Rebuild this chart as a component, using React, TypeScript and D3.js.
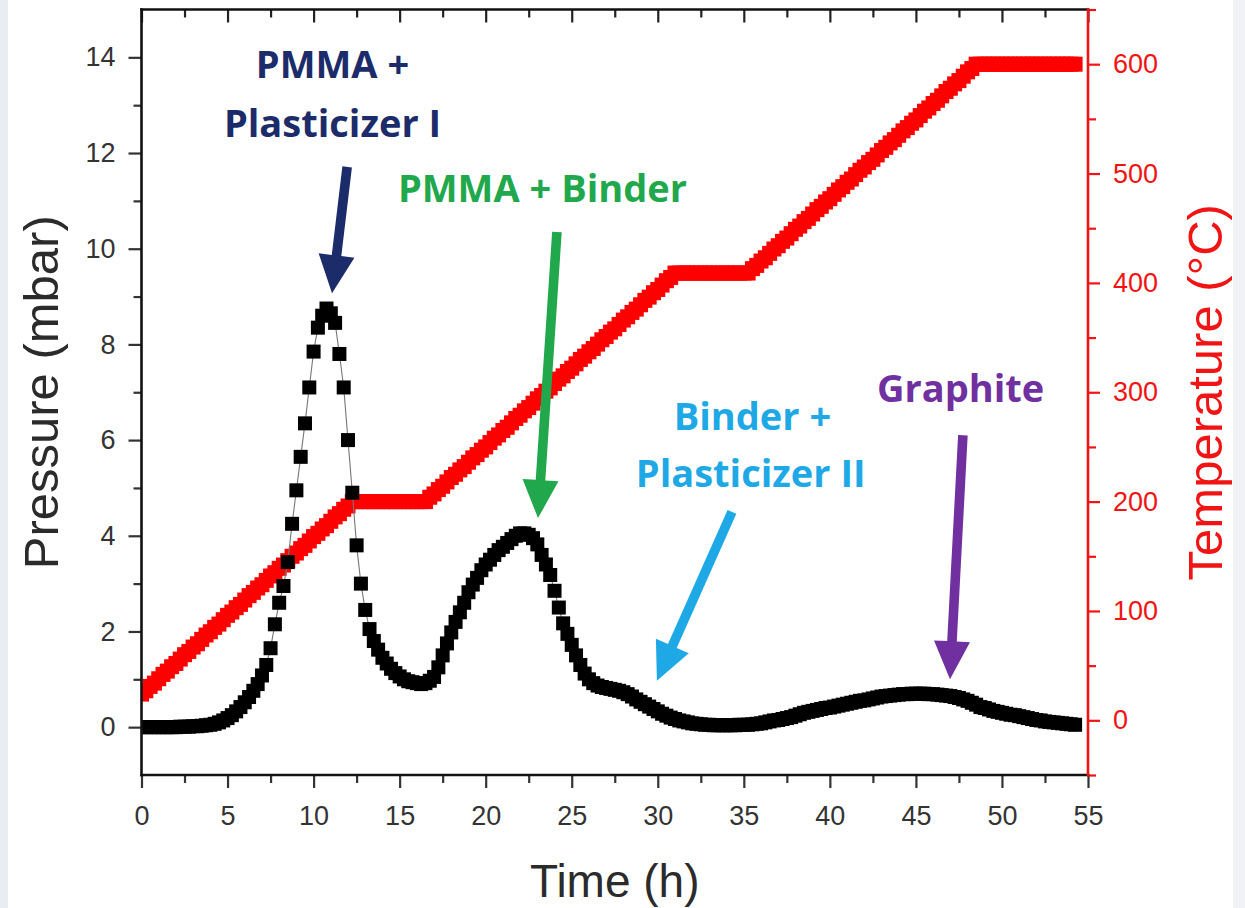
import React, { useEffect, useRef } from 'react';
import * as d3 from 'd3';

// samples are logged every quarter hour
const STEP_H = 0.25;

// pressure (mbar), one row per hour
const pressure = [
  0.00, 0.00, 0.00, 0.00,
  0.00, 0.00, 0.00, 0.00,
  0.00, 0.01, 0.01, 0.01,
  0.02, 0.02, 0.03, 0.04,
  0.05, 0.07, 0.10, 0.14,
  0.19, 0.25, 0.33, 0.42,
  0.52, 0.63, 0.76, 0.90,
  1.08, 1.30, 1.65, 2.15,
  2.60, 2.95, 3.45, 4.25,
  4.95, 5.65, 6.35, 7.10,
  7.85, 8.35, 8.60, 8.75,
  8.65, 8.45, 7.80, 7.10,
  6.00, 4.90, 3.80, 3.00,
  2.45, 2.05, 1.80, 1.62,
  1.45, 1.33, 1.22, 1.13,
  1.06, 1.00, 0.96, 0.94,
  0.92, 0.90, 0.92, 0.97,
  1.05, 1.25, 1.50, 1.75,
  1.98, 2.20, 2.40, 2.60,
  2.82, 2.98, 3.12, 3.28,
  3.40, 3.50, 3.60, 3.70,
  3.77, 3.85, 3.93, 4.00,
  4.05, 4.05, 4.02, 3.95,
  3.82, 3.60, 3.40, 3.18,
  2.85, 2.50, 2.17, 1.95,
  1.72, 1.50, 1.30, 1.12,
  1.00, 0.92, 0.87, 0.84,
  0.82, 0.80, 0.78, 0.76,
  0.73, 0.69, 0.64, 0.58,
  0.53, 0.48, 0.43, 0.38,
  0.33, 0.28, 0.24, 0.20,
  0.17, 0.14, 0.12, 0.10,
  0.08, 0.07, 0.06, 0.05,
  0.05, 0.04, 0.04, 0.04,
  0.04, 0.04, 0.04, 0.05,
  0.05, 0.05, 0.06, 0.07,
  0.08, 0.10, 0.12, 0.14,
  0.15, 0.17, 0.19, 0.21,
  0.24, 0.27, 0.30, 0.32,
  0.34, 0.36, 0.38, 0.40,
  0.41, 0.43, 0.45, 0.47,
  0.49, 0.51, 0.53, 0.55,
  0.56, 0.58, 0.60, 0.62,
  0.64, 0.65, 0.66, 0.67,
  0.68, 0.69, 0.69, 0.70,
  0.70, 0.70, 0.70, 0.69,
  0.69, 0.68, 0.67, 0.66,
  0.65, 0.63, 0.61, 0.58,
  0.55, 0.51, 0.47, 0.42,
  0.40, 0.37, 0.34, 0.32,
  0.30, 0.28, 0.26, 0.25,
  0.23, 0.21, 0.19, 0.17,
  0.15, 0.14, 0.12, 0.11,
  0.10, 0.09, 0.08, 0.07,
  0.06, 0.05,
];

// oven temperature (°C), one row per hour
const temperature = [
  24, 27, 31, 34,
  38, 42, 45, 49,
  52, 56, 60, 63,
  67, 70, 74, 78,
  81, 85, 88, 92,
  96, 99, 103, 106,
  110, 114, 117, 121,
  124, 128, 132, 135,
  139, 142, 146, 150,
  153, 157, 160, 164,
  168, 171, 175, 178,
  182, 186, 189, 193,
  196, 200, 200, 200,
  200, 200, 200, 200,
  200, 200, 200, 200,
  200, 200, 200, 200,
  200, 200, 200, 204,
  207, 211, 214, 218,
  222, 225, 229, 232,
  236, 240, 243, 247,
  250, 254, 258, 261,
  265, 268, 272, 276,
  279, 283, 286, 290,
  294, 297, 301, 304,
  308, 312, 315, 319,
  322, 326, 330, 333,
  337, 340, 344, 348,
  351, 355, 358, 362,
  366, 369, 373, 376,
  380, 384, 387, 391,
  394, 398, 402, 405,
  409, 409, 409, 409,
  409, 409, 409, 409,
  409, 409, 409, 409,
  409, 409, 409, 409,
  409, 409, 413, 416,
  420, 423, 427, 431,
  434, 438, 441, 445,
  449, 452, 456, 459,
  463, 467, 470, 474,
  477, 481, 485, 488,
  492, 495, 499, 503,
  506, 510, 513, 517,
  521, 524, 528, 531,
  535, 539, 542, 546,
  549, 553, 557, 560,
  564, 567, 571, 575,
  578, 582, 585, 589,
  593, 596, 600, 600,
  600, 600, 600, 600,
  600, 600, 600, 600,
  600, 600, 600, 600,
  600, 600, 600, 600,
  600, 600, 600, 600,
  600, 600,
];

const timeTicks = [0, 5, 10, 15, 20, 25, 30, 35, 40, 45, 50, 55];
const timeMinor = [2.5, 7.5, 12.5, 17.5, 22.5, 27.5, 32.5, 37.5, 42.5, 47.5, 52.5];
const pressureTicks = [0, 2, 4, 6, 8, 10, 12, 14];
const pressureMinor = [1, 3, 5, 7, 9, 11, 13];
const tempTicks = [0, 100, 200, 300, 400, 500, 600];
const tempMinor = [-50, 50, 150, 250, 350, 450, 550, 650];

// annotations, placed in data units (time h, pressure mbar)
const noteText = ['PMMA +', 'Plasticizer I', 'PMMA + Binder', 'Binder +', 'Plasticizer II', 'Graphite'];
const noteT = [11.1, 11.1, 23.3, 35.5, 35.4, 47.6];
const noteP = [13.57, 12.34, 10.98, 6.21, 5.02, 6.8];
const noteColor = ['#1c2b69', '#1c2b69', '#22a84c', '#1ea9e6', '#1ea9e6', '#7030a0'];

const arrowFromT = [11.95, 24.14, 34.31, 47.73];
const arrowFromP = [11.71, 10.35, 4.5, 6.1];
const arrowToT = [11.07, 23.04, 29.95, 46.98];
const arrowToP = [9.07, 4.37, 0.97, 1.0];
const arrowColor = ['#1c2b69', '#22a84c', '#1ea9e6', '#7030a0'];

const W = 1245;
const H = 908;
const margin = { left: 141.5, right: 157, top: 9.5, bottom: 133 };

const App = () => {
  const ref = useRef(null);

  useEffect(() => {
    const svg = d3.select(ref.current);
    svg.selectAll('*').remove();

    const x = d3.scaleLinear().domain([0, 55]).range([margin.left, W - margin.right]);
    const y = d3.scaleLinear().domain([-1, 15]).range([H - margin.bottom, margin.top]);
    const yT = d3.scaleLinear().domain([-50, 650]).range([H - margin.bottom, margin.top]);

    const x0 = x(0), x1 = x(55), yb = y(-1), yt = y(15);

    // page edges of the original screenshot
    svg.append('rect').attr('x', 0).attr('y', 0).attr('width', 8).attr('height', H).attr('fill', '#e8ecf3');
    svg.append('rect').attr('x', 1233).attr('y', 0).attr('width', 12).attr('height', H).attr('fill', '#f0f2f5');

    svg.append('clipPath').attr('id', 'plot-clip')
      .append('rect').attr('x', x0).attr('y', yt).attr('width', x1 - x0).attr('height', yb - yt);

    const plot = svg.append('g').attr('clip-path', 'url(#plot-clip)');

    // temperature
    const tSize = 15;
    plot.append('g').selectAll('rect').data(temperature).join('rect')
      .attr('x', (d, i) => x(i * STEP_H) - tSize / 2)
      .attr('y', d => yT(d) - tSize / 2)
      .attr('width', tSize).attr('height', tSize)
      .attr('fill', '#ff0000');

    // pressure: thin connecting line, then squares
    const line = d3.line()
      .x((d, i) => x(i * STEP_H))
      .y(d => y(d));
    plot.append('path').datum(pressure)
      .attr('fill', 'none').attr('stroke', '#777').attr('stroke-width', 1.1)
      .attr('d', line);

    const pSize = 14;
    plot.append('g').selectAll('rect').data(pressure).join('rect')
      .attr('x', (d, i) => x(i * STEP_H) - pSize / 2)
      .attr('y', d => y(d) - pSize / 2)
      .attr('width', pSize).attr('height', pSize)
      .attr('fill', '#000');

    const tickFont = 'Liberation Sans, Arial, sans-serif';
    const styleAxis = (g, color) => {
      g.select('.domain').remove();
      g.selectAll('line').attr('stroke', color).attr('stroke-width', 2.2);
      g.selectAll('text').attr('fill', color).style('font-size', '27px').style('font-family', tickFont);
    };

    // bottom
    svg.append('g').attr('transform', `translate(0,${yb})`)
      .call(d3.axisBottom(x).tickValues(timeTicks).tickSize(13).tickPadding(18).tickFormat(d3.format('d')))
      .call(g => styleAxis(g, '#333'));
    svg.append('g').attr('transform', `translate(0,${yb})`)
      .call(d3.axisBottom(x).tickValues(timeMinor).tickSize(8).tickFormat(() => ''))
      .call(g => styleAxis(g, '#333'));
    // top, ticks inward
    svg.append('g').attr('transform', `translate(0,${yt})`)
      .call(d3.axisTop(x).tickValues(timeTicks).tickSize(-13).tickFormat(() => ''))
      .call(g => styleAxis(g, '#222'));
    svg.append('g').attr('transform', `translate(0,${yt})`)
      .call(d3.axisTop(x).tickValues(timeMinor).tickSize(-8).tickFormat(() => ''))
      .call(g => styleAxis(g, '#222'));
    // left
    svg.append('g').attr('transform', `translate(${x0},0)`)
      .call(d3.axisLeft(y).tickValues(pressureTicks).tickSize(13).tickPadding(13).tickFormat(d3.format('d')))
      .call(g => styleAxis(g, '#333'));
    svg.append('g').attr('transform', `translate(${x0},0)`)
      .call(d3.axisLeft(y).tickValues(pressureMinor).tickSize(8).tickFormat(() => ''))
      .call(g => styleAxis(g, '#333'));
    // right, temperature
    svg.append('g').attr('transform', `translate(${x1},0)`)
      .call(d3.axisRight(yT).tickValues(tempTicks).tickSize(12).tickPadding(13).tickFormat(d3.format('d')))
      .call(g => styleAxis(g, '#f01414'));
    svg.append('g').attr('transform', `translate(${x1},0)`)
      .call(d3.axisRight(yT).tickValues(tempMinor).tickSize(8).tickFormat(() => ''))
      .call(g => styleAxis(g, '#f01414'));

    // frame
    const frame = svg.append('g').attr('stroke-width', 2.6).attr('stroke-linecap', 'square');
    frame.append('line').attr('x1', x0).attr('x2', x1).attr('y1', yt).attr('y2', yt).attr('stroke', '#111');
    frame.append('line').attr('x1', x0).attr('x2', x1).attr('y1', yb).attr('y2', yb).attr('stroke', '#111');
    frame.append('line').attr('x1', x0).attr('x2', x0).attr('y1', yt).attr('y2', yb).attr('stroke', '#111');
    frame.append('line').attr('x1', x1).attr('x2', x1).attr('y1', yt).attr('y2', yb).attr('stroke', '#f01414');

    // axis titles
    const titleFont = 'Liberation Sans, Arial, sans-serif';
    svg.append('text')
      .attr('transform', `translate(58,${(yt + yb) / 2}) rotate(-90)`)
      .attr('text-anchor', 'middle')
      .style('font-family', titleFont).style('font-size', '49px').attr('fill', '#2b2b2b')
      .text('Pressure (mbar)');
    svg.append('text')
      .attr('transform', `translate(1222,${(yt + yb) / 2}) rotate(-90)`)
      .attr('text-anchor', 'middle')
      .style('font-family', titleFont).style('font-size', '49px').attr('fill', '#f01414')
      .text('Temperature (°C)');
    svg.append('text')
      .attr('x', (x0 + x1) / 2).attr('y', 897)
      .attr('text-anchor', 'middle')
      .style('font-family', titleFont).style('font-size', '46px').attr('fill', '#2b2b2b')
      .text('Time (h)');

    // arrows
    const headLen = 38, headHalf = 18, shaftHalf = 4.8;
    arrowFromT.forEach((t, i) => {
      const ax = x(t), ay = y(arrowFromP[i]);
      const bx = x(arrowToT[i]), by = y(arrowToP[i]);
      const len = Math.hypot(bx - ax, by - ay);
      const ux = (bx - ax) / len, uy = (by - ay) / len;
      const nx = -uy, ny = ux;
      const cx = bx - ux * headLen, cy = by - uy * headLen;
      const pts = [
        [ax + nx * shaftHalf, ay + ny * shaftHalf],
        [cx + nx * shaftHalf, cy + ny * shaftHalf],
        [cx + nx * headHalf, cy + ny * headHalf],
        [bx, by],
        [cx - nx * headHalf, cy - ny * headHalf],
        [cx - nx * shaftHalf, cy - ny * shaftHalf],
        [ax - nx * shaftHalf, ay - ny * shaftHalf],
      ];
      svg.append('polygon')
        .attr('points', pts.map(p => p.join(',')).join(' '))
        .attr('fill', arrowColor[i]);
    });

    // annotation labels
    svg.append('g').selectAll('text').data(noteText).join('text')
      .attr('x', (d, i) => x(noteT[i]))
      .attr('y', (d, i) => y(noteP[i]))
      .attr('text-anchor', 'middle')
      .style('font-family', 'Open Sans, sans-serif')
      .style('font-weight', 700)
      .style('font-size', '38px')
      .attr('fill', (d, i) => noteColor[i])
      .text(d => d);
  }, []);

  return (
    <svg ref={ref} width={W} height={H}
      style={{ position: 'absolute', left: 0, top: 0, background: '#fff' }} />
  );
};

export default App;
